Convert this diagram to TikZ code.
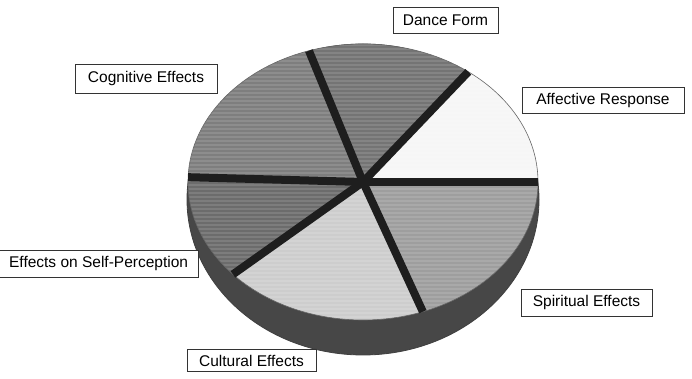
\documentclass[tikz,border=0pt]{standalone}
\usepackage{fontspec}
\setmainfont{Liberation Sans}
\definecolor{rimgray}{HTML}{474747}
\definecolor{affcol}{HTML}{F6F6F6}
\definecolor{dancecol}{HTML}{747474}
\definecolor{cogcol}{HTML}{7E7E7E}
\definecolor{selfcol}{HTML}{6C6C6C}
\definecolor{cultcol}{HTML}{CDCDCD}
\definecolor{spircol}{HTML}{9E9E9E}
\definecolor{spokecol}{HTML}{1E1E1E}
\tikzset{
  lbl/.style={draw=black!80, line width=0.8pt, fill=white, inner sep=0pt,
    font=\fontsize{15.5}{17}\selectfont},
  spoke/.style={draw=spokecol, line width=8pt, line cap=butt},
  outline/.style={draw=black!75, line width=0.8pt}
}
\begin{document}
\begin{tikzpicture}[x=1pt,y=1pt]
\useasboundingbox (0,0) rectangle (692,379);
\coordinate (C) at (363,197);
\coordinate (O) at (363,179.5);
% side of the pie (outer oval)
\fill[rimgray] (O) ellipse[x radius=176pt, y radius=155.5pt];
\draw[outline] (O) ellipse[x radius=176pt, y radius=155.5pt];
% slices of the top face
\fill[affcol]   (C) -- ++(0:175pt and 138pt)   arc[start angle=0,   end angle=53,  x radius=175pt, y radius=138pt] -- cycle;
\fill[dancecol] (C) -- ++(53:175pt and 138pt)  arc[start angle=53,  end angle=108, x radius=175pt, y radius=138pt] -- cycle;
\fill[cogcol]   (C) -- ++(108:175pt and 138pt) arc[start angle=108, end angle=178, x radius=175pt, y radius=138pt] -- cycle;
\fill[selfcol]  (C) -- ++(178:175pt and 138pt) arc[start angle=178, end angle=222, x radius=175pt, y radius=138pt] -- cycle;
\fill[cultcol]  (C) -- ++(222:175pt and 138pt) arc[start angle=222, end angle=290, x radius=175pt, y radius=138pt] -- cycle;
\fill[spircol]  (C) -- ++(290:175pt and 138pt) arc[start angle=290, end angle=360, x radius=175pt, y radius=138pt] -- cycle;
% scan-like horizontal streaks on the top face
\begin{scope}
  \clip (C) ellipse[x radius=175pt, y radius=138pt];
  \foreach \y in {58,62,...,334} \draw[white, opacity=0.12, line width=1.2pt] (186,\y) -- (540,\y);
\end{scope}
\draw[black!60, line width=0.6pt] (C) ellipse[x radius=175pt, y radius=138pt];
% spoke end points
\path (C) ++(0:175pt and 138pt)   coordinate (pR);
\path (C) ++(53:175pt and 138pt)  coordinate (pUR);
\path (C) ++(108:175pt and 138pt) coordinate (pT);
\path (C) ++(178:175pt and 138pt) coordinate (pL);
\path (C) ++(222:175pt and 138pt) coordinate (pLL);
\path (C) ++(290:175pt and 138pt) coordinate (pLR);
\foreach \p in {pR,pUR,pT,pL,pLL,pLR} \draw[spoke] (C) -- (\p);
% labels
\node[lbl, minimum width=105pt, minimum height=26pt] (dance) at (445.5,359) {Dance Form};
\node[lbl, minimum width=142pt, minimum height=29pt] (cog) at (146,300.5) {Cognitive Effects};
\node[lbl, minimum width=162pt, minimum height=26pt] (aff) at (603,279) {Affective Response};
\node[lbl, minimum width=131pt, minimum height=27pt] (spir) at (586.5,76.5) {Spiritual Effects};
\node[lbl, minimum width=200pt, minimum height=27pt, anchor=east] (self) at (199,115.5) {Effects on Self-Perception\hspace{4pt}};
\node[lbl, minimum width=129pt, minimum height=22pt] (cult) at (251.5,18.5) {Cultural Effects};
\end{tikzpicture}
\end{document}
